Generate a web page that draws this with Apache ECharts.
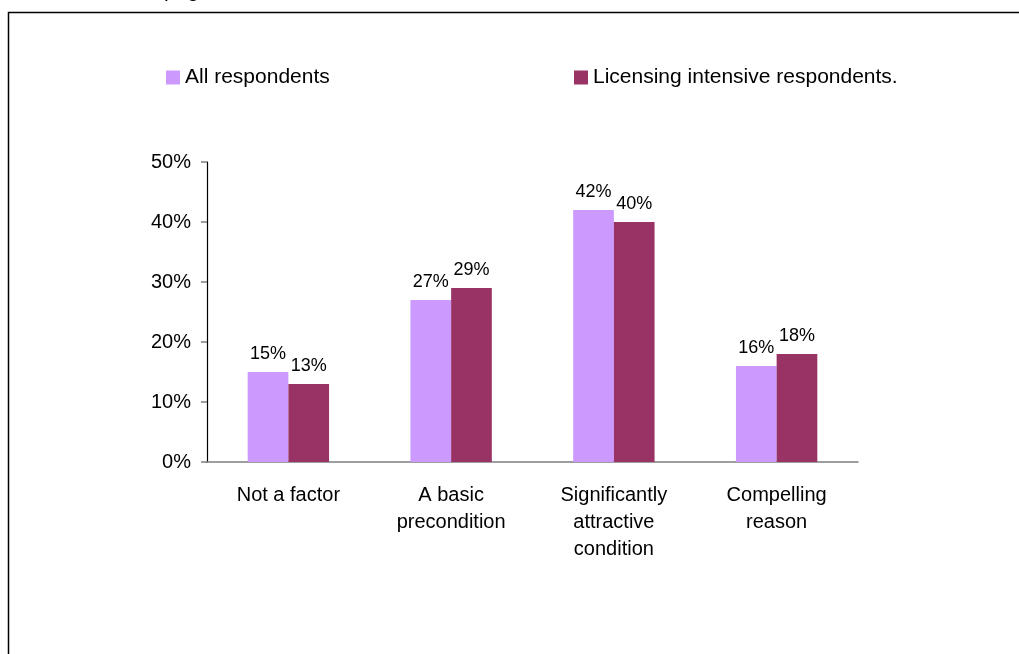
<!DOCTYPE html>
<html>
<head>
<meta charset="utf-8">
<script src="https://cdn.jsdelivr.net/npm/echarts@6/dist/echarts.min.js"></script>
<style>
  html, body { margin: 0; padding: 0; background: #fff; }
  #chart { width: 1019px; height: 654px; }
</style>
</head>
<body>
<div id="chart"></div>
<script>
// Share of respondents by how much the factor weighs in the decision
const categories = ['Not a factor', 'A basic\nprecondition', 'Significantly\nattractive\ncondition', 'Compelling\nreason'];
const seriesNames = ['All respondents', 'Licensing intensive respondents.'];
const allRespondents = [15, 27, 42, 16];
const licensingIntensive = [13, 29, 40, 18];
const yTicks = [0, 10, 20, 30, 40, 50];

const FONT = '"Liberation Sans", Arial, Helvetica, sans-serif';
const chart = echarts.init(document.getElementById('chart'), null, { renderer: 'canvas' });

const labelStyle = {
  show: true,
  position: 'top',
  distance: 9,
  formatter: p => p.value + '%',
  fontFamily: FONT,
  fontSize: 18,
  color: '#000'
};

const legendBase = {
  icon: 'rect', itemWidth: 14, itemHeight: 14, itemGap: 6, padding: 0,
  textStyle: { fontFamily: FONT, fontSize: 21, color: '#000', padding: [0, 0, 0, 0] }
};

chart.setOption({
  backgroundColor: '#fff',
  animation: false,
  textStyle: { fontFamily: FONT },
  graphic: [
    {
      type: 'rect',
      shape: { x: 8.5, y: 12.5, width: 1030, height: 660 },
      style: { fill: 'none', stroke: '#000', lineWidth: 1.5 },
      silent: true
    },
    {
      type: 'text',
      left: 164,
      top: -19,
      style: { text: 'page', font: '21px ' + FONT, fill: '#000' },
      silent: true
    }
  ],
  legend: [
    Object.assign({ data: [seriesNames[0]], left: 166, top: 67 }, legendBase),
    Object.assign({ data: [seriesNames[1]], left: 574, top: 67 }, legendBase)
  ],
  grid: { left: 207, right: 161, top: 162, bottom: 192, containLabel: false },
  xAxis: {
    type: 'category',
    data: categories,
    axisLine: { lineStyle: { color: '#7f7f7f', width: 1.5 } },
    axisTick: { show: false },
    axisLabel: {
      fontFamily: FONT, fontSize: 20, color: '#000', lineHeight: 27, margin: 20,
      interval: 0
    }
  },
  yAxis: {
    type: 'value',
    min: yTicks[0],
    max: yTicks[yTicks.length - 1],
    interval: yTicks[1] - yTicks[0],
    axisLine: { show: true, lineStyle: { color: '#000', width: 1.2 } },
    axisTick: { show: true, length: 6, lineStyle: { color: '#7f7f7f', width: 1.5 } },
    splitLine: { show: false },
    axisLabel: {
      fontFamily: FONT, fontSize: 20, color: '#000', margin: 16,
      formatter: '{value}%'
    }
  },
  series: [
    {
      name: seriesNames[0],
      type: 'bar',
      data: allRespondents,
      barGap: '0%',
      barCategoryGap: '50%',
      itemStyle: { color: '#cc99ff' },
      label: labelStyle
    },
    {
      name: seriesNames[1],
      type: 'bar',
      data: licensingIntensive,
      barGap: '0%',
      barCategoryGap: '50%',
      itemStyle: { color: '#993366' },
      label: labelStyle
    }
  ]
});
</script>
</body>
</html>
